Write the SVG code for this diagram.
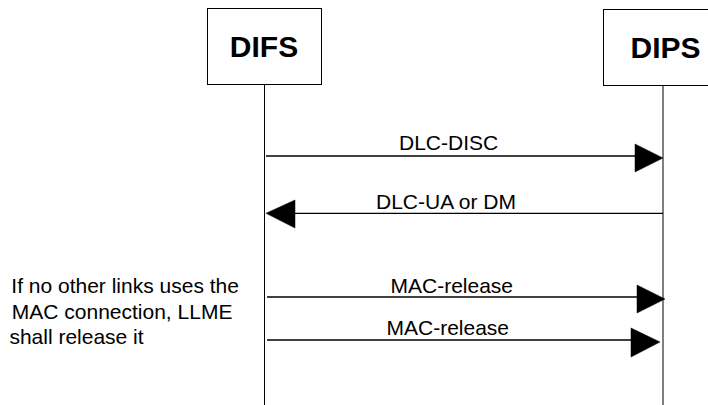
<svg xmlns="http://www.w3.org/2000/svg" width="708" height="405" viewBox="0 0 708 405">
<style>
.box{fill:#fff;stroke:#000;stroke-width:1}
.life{stroke:#000;stroke-width:1;fill:none}
.msg{stroke:#000;stroke-width:1.3;fill:none}
.head{fill:#000;stroke:#000;stroke-width:0.5}
.title{font-family:"Liberation Sans",Arial,sans-serif;font-weight:bold;font-size:30px;fill:#000}
.lbl{font-family:"Liberation Sans",Arial,sans-serif;font-size:21px;fill:#000}
</style>
<rect width="708" height="405" fill="#fff"/>
<g id="DIFS">
<rect class="box" x="207.5" y="8.5" width="114" height="76"/>
<text class="title" x="264" y="57" text-anchor="middle">DIFS</text>
<line class="life" x1="264.5" y1="84.5" x2="264.5" y2="405"/>
</g>
<g id="DIPS">
<rect class="box" x="603.5" y="9.5" width="114" height="76"/>
<text class="title" x="665.5" y="58" text-anchor="middle">DIPS</text>
<line class="life" x1="663" y1="85.5" x2="663" y2="405"/>
</g>
<g id="note">
<text class="lbl" x="11.3" y="292.7">If no other links uses the</text>
<text class="lbl" x="11.8" y="319.3">MAC connection, LLME</text>
<text class="lbl" x="9.4" y="344">shall release it</text>
</g>
<g id="connectors">
<line class="msg" x1="266" y1="156" x2="637" y2="156"/>
<polygon class="head" points="635,144 663,158 635,172"/>
<text class="lbl" x="399" y="150">DLC-DISC</text>
<line class="msg" x1="293" y1="213.3" x2="663" y2="213.3"/>
<polygon class="head" points="266,213.3 295,200 295,228"/>
<text class="lbl" x="376" y="209">DLC-UA or DM</text>
<line class="msg" x1="267" y1="297" x2="638" y2="297"/>
<polygon class="head" points="637,285 665,299 637,313"/>
<text class="lbl" x="390.5" y="292.7">MAC-release</text>
<line class="msg" x1="267" y1="340" x2="632" y2="340"/>
<polygon class="head" points="631,328 660,342 631,357"/>
<text class="lbl" x="386.5" y="335">MAC-release</text>
</g>
</svg>
